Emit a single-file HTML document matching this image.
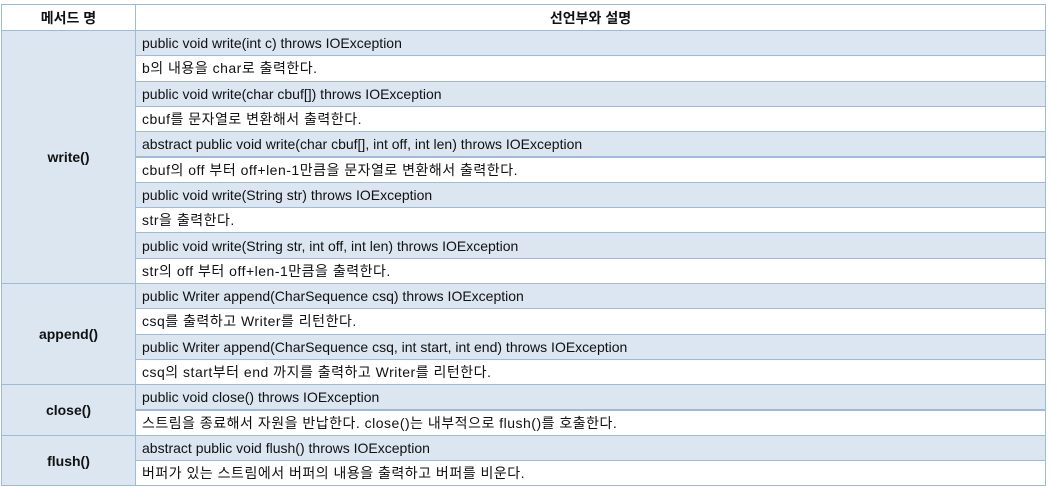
<!DOCTYPE html>
<html><head><meta charset="utf-8"><style>
body{margin:0;width:1050px;height:487px;background:#fff;overflow:hidden;position:relative;font-family:"Liberation Sans","Noto Sans CJK KR",sans-serif;font-size:14px;color:#111}
.cell{position:absolute;box-sizing:border-box;border:1px solid #9fb9d6;display:flex;align-items:center;white-space:nowrap;overflow:hidden;padding-left:6px}
.b{background:#dce6f1}
.m{justify-content:center;padding:0;font-weight:bold;background:#dce6f1}
.h{justify-content:center;padding:0;font-weight:bold;background:#fff}
.k{letter-spacing:0.5px}
</style></head><body>
<div id="t"></div>
<script>
const rows=[
["public void write(int c) throws IOException",1],
["b의 내용을 char로 출력한다.",0],
["public void write(char cbuf[]) throws IOException",1],
["cbuf를 문자열로 변환해서 출력한다.",0],
["abstract public void write(char cbuf[], int off, int len) throws IOException",1],
["cbuf의 off 부터 off+len-1만큼을 문자열로 변환해서 출력한다.",0],
["public void write(String str) throws IOException",1],
["str을 출력한다.",0],
["public void write(String str, int off, int len) throws IOException",1],
["str의 off 부터 off+len-1만큼을 출력한다.",0],
["public Writer append(CharSequence csq) throws IOException",1],
["csq를 출력하고 Writer를 리턴한다.",0],
["public Writer append(CharSequence csq, int start, int end) throws IOException",1],
["csq의 start부터 end 까지를 출력하고 Writer를 리턴한다.",0],
["public void close() throws IOException",1],
["스트림을 종료해서 자원을 반납한다. close()는 내부적으로 flush()를 호출한다.",0],
["abstract public void flush() throws IOException",1],
["버퍼가 있는 스트림에서 버퍼의 내용을 출력하고 버퍼를 비운다.",0]];
const methods=[["write()",0,10],["append()",10,4],["close()",14,2],["flush()",16,2]];
const T=document.getElementById('t');
const R0=30,RH=25.3,L=1,M=135,RIGHT=1046;
function cell(x,y,w,h,txt,cls){const d=document.createElement('div');d.className='cell '+cls;d.style.left=x+'px';d.style.top=y+'px';d.style.width=w+'px';d.style.height=h+'px';d.textContent=txt;T.appendChild(d);return d;}
let h1=cell(L,4,M-L+1,R0-4+1,'메서드 명','h');


let h2=cell(M,4,RIGHT-M,R0-4+1,'선언부와 설명','h');


methods.forEach(m=>{const d=cell(L,R0+m[1]*RH,M-L+1,m[2]*RH+1,m[0],'m');

});
rows.forEach((r,i)=>{const d=cell(M,R0+i*RH,RIGHT-M,RH+1,r[0],r[1]?'b':'k');

});
</script>
</body></html>
